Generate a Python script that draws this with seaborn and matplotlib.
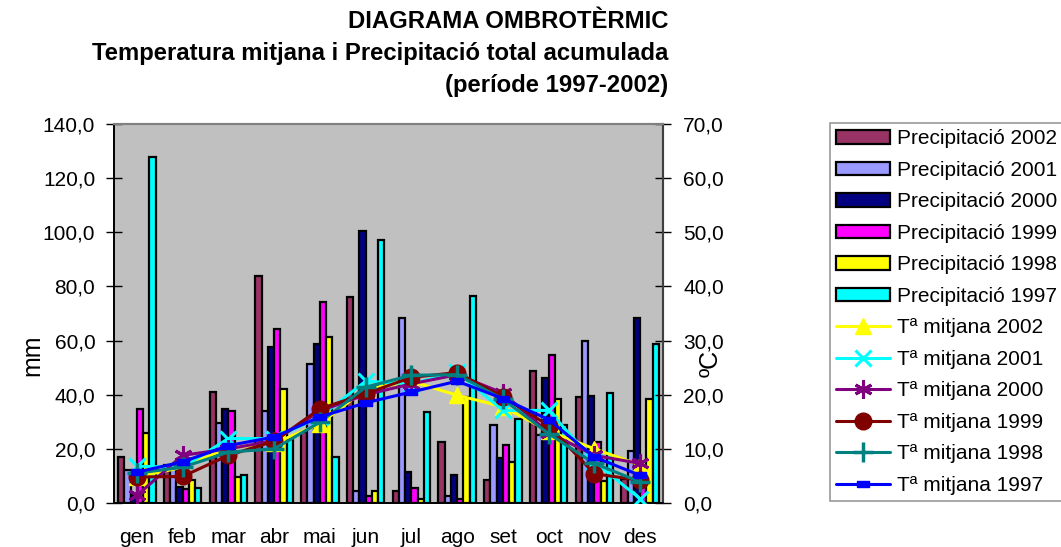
import numpy as np
import pandas as pd
import matplotlib
matplotlib.use("Agg")
import matplotlib.pyplot as plt
import seaborn as sns
from matplotlib.patches import Patch
from matplotlib.lines import Line2D
from matplotlib.ticker import FixedLocator, FuncFormatter

months = ["gen", "feb", "mar", "abr", "mai", "jun", "jul", "ago", "set", "oct", "nov", "des"]
years = ["2002", "2001", "2000", "1999", "1998", "1997"]

prec_2002 = [17.1, 14.0, 41.0, 84.0, 26.2, 76.0, 4.3, 22.6, 8.6, 48.7, 39.3, 9.0]
prec_2001 = [12.2, 13.5, 29.4, 34.1, 51.2, 4.3, 68.3, 2.5, 28.9, 25.0, 59.7, 19.2]
prec_2000 = [3.0, 6.0, 34.8, 57.8, 58.7, 100.3, 11.4, 10.3, 16.6, 46.3, 39.7, 68.3]
prec_1999 = [34.8, 5.0, 33.9, 64.1, 74.4, 2.5, 5.7, 1.3, 21.3, 54.6, 22.5, 10.0]
prec_1998 = [25.7, 8.6, 9.6, 42.1, 61.5, 4.5, 1.4, 39.0, 15.0, 38.6, 8.2, 38.5]
prec_1997 = [127.7, 5.6, 10.2, 23.5, 17.0, 97.0, 33.6, 76.3, 31.1, 28.7, 40.7, 58.8]

temp_2002 = [4.8, 6.6, 10.2, 11.0, 14.6, 21.0, 22.5, 19.9, 17.8, 13.3, 10.0, 7.0]
temp_2001 = [6.8, 6.6, 11.9, 11.9, 15.9, 22.5, 22.0, 24.2, 17.1, 17.1, 7.6, 0.8]
temp_2000 = [1.4, 8.8, 10.0, 11.5, 17.0, 20.0, 22.0, 23.7, 20.3, 13.0, 8.8, 7.3]
temp_1999 = [4.8, 4.9, 8.8, 11.4, 17.4, 20.2, 23.2, 24.1, 19.6, 14.3, 5.4, 4.2]
temp_1998 = [5.5, 6.6, 9.4, 10.0, 14.9, 21.4, 23.6, 23.7, 19.2, 12.8, 7.3, 3.9]
temp_1997 = [5.7, 7.6, 10.6, 12.2, 15.9, 18.5, 20.5, 22.5, 19.3, 15.4, 8.5, 5.1]

prec_series = [prec_2002, prec_2001, prec_2000, prec_1999, prec_1998, prec_1997]
temp_series = [temp_2002, temp_2001, temp_2000, temp_1999, temp_1998, temp_1997]

bar_colors = ["#993366", "#9999FF", "#000080", "#FF00FF", "#FFFF00", "#00FFFF"]
line_colors = ["#FFFF00", "#00FFFF", "#800080", "#800000", "#008080", "#0000FF"]
dash_marker = [(-1.0, -0.55), (1.0, -0.55), (1.0, 0.55), (-1.0, 0.55), (-1.0, -0.55)]
line_markers = ["^", "x", (6, 2, 0), "o", "+", dash_marker]
marker_sizes = [11, 11, 13, 12, 14, 9]
marker_edge = [1, 2.2, 2.2, 1, 2.5, 1]

bar_labels = [f"Precipitació {y}" for y in years]
line_labels = [f"Tª mitjana {y}" for y in years]

prec_df = pd.DataFrame({
    "mes": np.tile(months, len(years)),
    "serie": np.repeat(bar_labels, len(months)),
    "mm": np.concatenate(prec_series),
})
temp_df = pd.DataFrame({
    "pos": np.tile(np.arange(len(months)), len(years)),
    "serie": np.repeat(line_labels, len(months)),
    "t": np.concatenate(temp_series),
})

sns.set_theme(style="white")
plt.rcParams["font.family"] = ["Liberation Sans", "DejaVu Sans"]
plt.rcParams["text.color"] = "black"
plt.rcParams["axes.labelcolor"] = "black"
plt.rcParams["xtick.color"] = "black"
plt.rcParams["ytick.color"] = "black"

fig = plt.figure(figsize=(10.61, 5.47), dpi=100)
ax = fig.add_axes([114 / 1061, 1 - 503 / 547, (663 - 114) / 1061, (503 - 124) / 547])
ax.set_facecolor("#C0C0C0")

sns.barplot(data=prec_df, x="mes", y="mm", hue="serie", order=months,
            hue_order=bar_labels, palette=bar_colors, edgecolor="black",
            linewidth=1.6, width=0.82, gap=0, ax=ax, legend=False, saturation=1)

ax.set_ylim(0, 140)
ax.set_xlim(-0.5, 11.5)
ax.set_yticks(np.arange(0, 141, 20))
ax.yaxis.set_major_formatter(FuncFormatter(lambda v, p: f"{v:.1f}".replace(".", ",")))
ax.set_xlabel("")
ax.set_ylabel("mm", fontsize=18)
ax.yaxis.set_label_coords(-0.126, 0.39)
ax.set_xticks(np.arange(12))
ax.set_xticklabels(months)
ax.xaxis.set_minor_locator(FixedLocator(np.arange(-0.5, 12, 1)))
ax.tick_params(axis="x", which="major", length=0, labelsize=15, pad=18, colors="black")
ax.tick_params(axis="x", which="minor", direction="inout", length=11, width=1, color="black")
ax.tick_params(axis="y", direction="inout", length=11, width=1, labelsize=15, colors="black", pad=8, left=True)

ax2 = ax.twinx()
for lbl, col, mk, ms, mew in zip(line_labels, line_colors, line_markers, marker_sizes, marker_edge):
    sub = temp_df[temp_df["serie"] == lbl]
    sns.lineplot(data=sub, x="pos", y="t", color=col, marker=mk, markersize=ms,
                 markeredgecolor=col, markeredgewidth=mew, linewidth=2.2, ax=ax2,
                 legend=False, zorder=3)
ax2.set_ylim(0, 70)
ax2.set_xlim(-0.5, 11.5)
ax2.set_yticks(np.arange(0, 71, 10))
ax2.yaxis.set_major_formatter(FuncFormatter(lambda v, p: f"{v:.1f}".replace(".", ",")))
ax2.set_ylabel("ºC", fontsize=18, rotation=90)
ax2.yaxis.set_label_coords(1.064, 0.368)
ax2.set_xlabel("")
ax2.tick_params(axis="y", direction="inout", length=11, width=1, labelsize=15, colors="black", pad=9, right=True)

for a in (ax, ax2):
    for s in ["top", "right"]:
        a.spines[s].set_color("#808080")
        a.spines[s].set_linewidth(1.5)
    a.spines["left"].set_color("black")
    a.spines["bottom"].set_color("black")
ax2.spines["right"].set_color("#404040")
ax2.spines["right"].set_linewidth(1.5)

fig.text(668 / 1061, 1 - 10 / 547,
         "DIAGRAMA OMBROTÈRMIC\nTemperatura mitjana i Precipitació total acumulada\n(període 1997-2002)",
         ha="right", va="top", fontsize=17.2, fontweight="bold", linespacing=1.5, color="black")

handles = [Patch(facecolor=c, edgecolor="black", linewidth=1.6) for c in bar_colors]
for col, mk, ms, mew in zip(line_colors, line_markers, marker_sizes, marker_edge):
    handles.append(Line2D([0], [0], color=col, marker=mk, markersize=ms,
                          markeredgecolor=col, markeredgewidth=mew, linewidth=2.2))
labels = bar_labels + line_labels
leg = fig.legend(handles, labels, loc="upper left", bbox_to_anchor=(830 / 1061, 1 - 123 / 547),
                 fontsize=15, frameon=True, fancybox=False, edgecolor="#808080",
                 handlelength=2.6, handleheight=0.62, handletextpad=0.3,
                 labelspacing=0.6, borderpad=0.3, borderaxespad=0, markerscale=1)
leg.get_frame().set_linewidth(1.2)
for t in leg.get_texts():
    t.set_color("black")

fig.savefig("out.png", dpi=100, facecolor="white")
